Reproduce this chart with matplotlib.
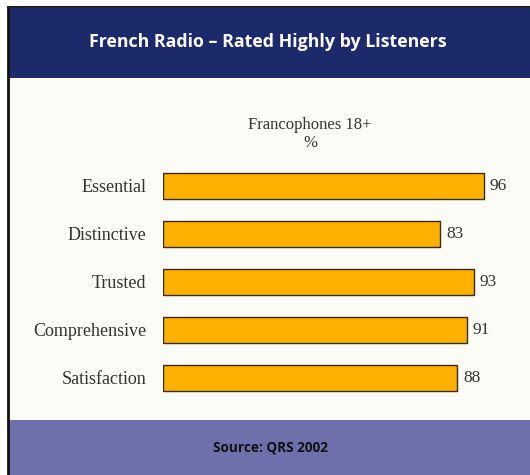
import matplotlib
matplotlib.use("Agg")
import matplotlib.pyplot as plt
from matplotlib.patches import Rectangle

categories = ["Essential", "Distinctive", "Trusted", "Comprehensive", "Satisfaction"]
values = [96, 83, 93, 91, 88]
title = "French Radio \u2013 Rated Highly by Listeners"
subtitle = "Francophones 18+\n%"
source = "Source: QRS 2002"

W, H = 530, 475
fig = plt.figure(figsize=(W / 100, H / 100), dpi=100)
fig.patch.set_facecolor("white")

def px_rect(x0, y0, x1, y1, z, **kw):
    fig.patches.append(Rectangle((x0 / W, 1 - y1 / H), (x1 - x0) / W, (y1 - y0) / H,
                                 transform=fig.transFigure, figure=fig, zorder=z, **kw))

px_rect(8, 7, 530, 475, -3, facecolor="#fdfdf7", edgecolor="none")
px_rect(8, 8, 530, 78, -2, facecolor="#1c2a6b", edgecolor="none")
px_rect(8, 420, 530, 475, -2, facecolor="#6e70ab", edgecolor="none")
fig.add_artist(plt.Line2D([8 / W, 8 / W], [0, 1 - 7 / H], color="#111111", lw=2, transform=fig.transFigure, zorder=-1))
fig.add_artist(plt.Line2D([8 / W, 1], [1 - 7 / H, 1 - 7 / H], color="#222222", lw=1.5, transform=fig.transFigure, zorder=-1))

fig.text(268 / W, 1 - 42 / H, title, color="white", fontsize=12.8, fontweight="bold",
         family="Open Sans", ha="center", va="center")
fig.text(310 / W, 1 - 134 / H, subtitle, color="#333333", fontsize=12,
         family="Liberation Serif", ha="center", va="center", linespacing=1.1)
fig.text(270 / W, 1 - 447 / H, source, color="#111111", fontsize=9.8, fontweight="bold",
         family="Open Sans", ha="center", va="center")

x_left, x_right = 163, 497
y_top, y_bot = 162, 402
ax = fig.add_axes([x_left / W, 1 - y_bot / H, (x_right - x_left) / W, (y_bot - y_top) / H])
ax.set_facecolor("none")
pos = list(range(len(categories)))
ax.barh(pos, values, height=0.53, color="#ffb000", edgecolor="#3a2a00", linewidth=1.0)
ax.set_xlim(0, 100)
ax.set_ylim(len(categories) - 0.5, -0.5)
for p, v in zip(pos, values):
    ax.text(v + 1.8, p, str(v), va="center", ha="left", fontsize=12.5,
            family="Liberation Serif", color="#333333")
ax.set_yticks(pos)
ax.set_yticklabels(categories, family="Liberation Serif", fontsize=13, color="#333333")
ax.tick_params(axis="y", length=0, pad=12)
ax.set_xticks([])
for s in ax.spines.values():
    s.set_visible(False)

fig.savefig("out.png", dpi=100)
